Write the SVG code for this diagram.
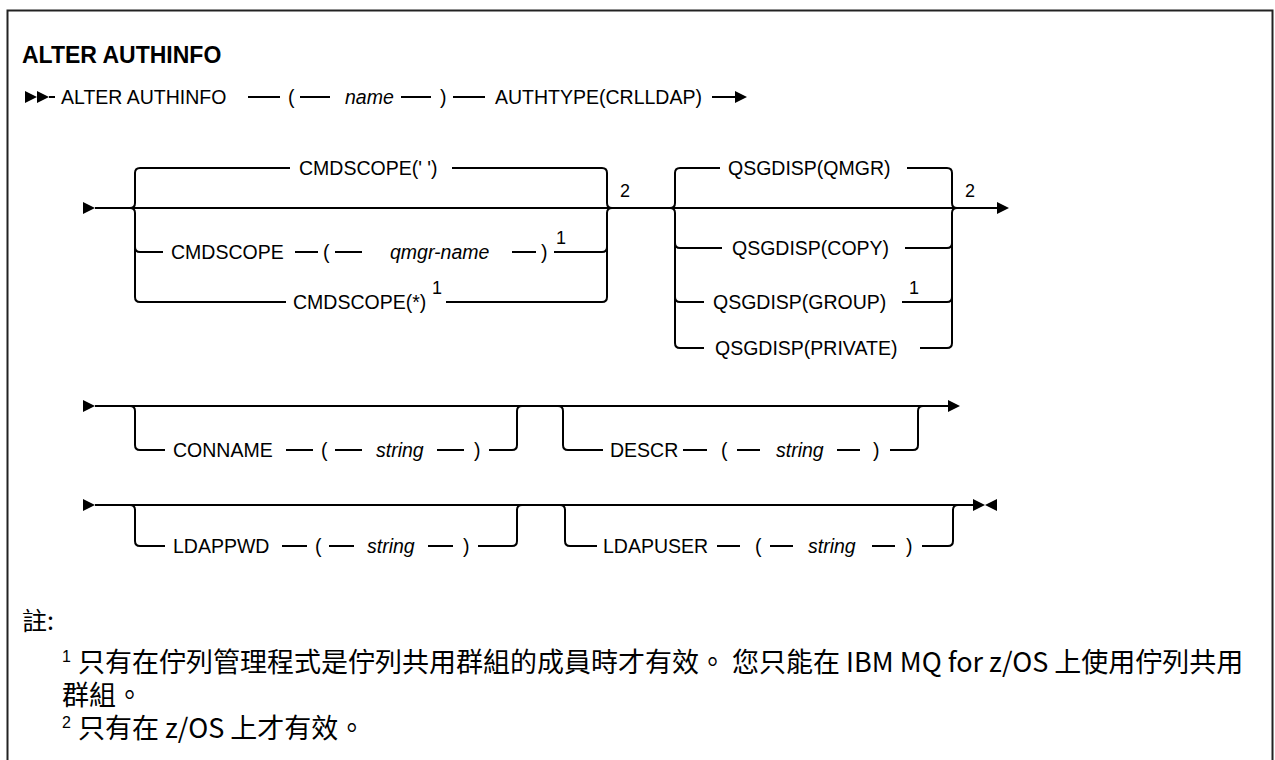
<svg xmlns="http://www.w3.org/2000/svg" width="1275" height="760" viewBox="0 0 1275 760">
<style>
.t{font-family:"Liberation Sans",Arial,sans-serif;font-size:19.5px;fill:#000}
.b{font-weight:bold;font-size:23px}
.i{font-style:italic}
.s{font-size:18px}
.ln{stroke:#000;stroke-width:2;fill:none}
.ar{fill:#000}
.cjk{font-family:"Noto Sans CJK TC","Noto Sans",sans-serif;font-size:27px;fill:#000}
.sup{font-family:"Liberation Sans",Arial,sans-serif;font-size:16px}
</style>
<rect x="7.5" y="10.5" width="1265" height="800" fill="#fff" stroke="#222" stroke-width="2"/>
<text class="t b" x="22" y="63">ALTER AUTHINFO</text>

<g id="connectors">
<!-- line 1 -->
<path class="ln" d="M49,97 H55 M248,97 H280 M300,97 H330 M401,97 H431 M453,97 H485 M712,97 H735"/>
<polygon class="ar" points="25,91 37,97 25,103"/>
<polygon class="ar" points="37,91 49,97 37,103"/>
<polygon class="ar" points="735,91 747,97 735,103"/>
<!-- section 2 main -->
<polygon class="ar" points="83,202 95,208 83,214"/>
<path class="ln" d="M95,208 H997"/>
<polygon class="ar" points="997,202 1009,208 997,214"/>
<!-- CMDSCOPE brackets -->
<path class="ln" d="M130,208 Q135,208 135,203 V173 Q135,168 140,168 M130,208 Q135,208 135,213 V297 Q135,302 140,302 M135,247 Q135,252 140,252"/>
<path class="ln" d="M602,168 Q607,168 607,173 V203 Q607,208 612,208 M602,302 Q607,302 607,297 V213 Q607,208 612,208 M602,252 Q607,252 607,247"/>
<path class="ln" d="M140,168 H290 M452,168 H602 M140,252 H163 M295,252 H318 M335,252 H362 M512,252 H536 M554,252 H602 M140,302 H286 M446,302 H602"/>
<!-- QSGDISP brackets -->
<path class="ln" d="M670,208 Q675,208 675,203 V173 Q675,168 680,168 M670,208 Q675,208 675,213 V343 Q675,348 680,348 M675,243 Q675,248 680,248 M675,297 Q675,302 680,302"/>
<path class="ln" d="M947,168 Q952,168 952,173 V203 Q952,208 957,208 M947,348 Q952,348 952,343 V213 Q952,208 957,208 M947,248 Q952,248 952,243 M947,302 Q952,302 952,297"/>
<path class="ln" d="M680,168 H720 M907,168 H947 M680,248 H722 M905,248 H947 M680,302 H704 M902,302 H947 M680,348 H704 M920,348 H947"/>
<!-- section 4 -->
<polygon class="ar" points="83,400 95,406 83,412"/>
<path class="ln" d="M95,406 H948"/>
<polygon class="ar" points="948,400 960,406 948,412"/>
<path class="ln" d="M130,406 Q135,406 135,411 V445 Q135,450 140,450 H165 M512,450 Q517,450 517,445 V411 Q517,406 522,406"/>
<path class="ln" d="M286,450 H313 M335,450 H362 M437,450 H464 M489,450 H512"/>
<path class="ln" d="M558,406 Q563,406 563,411 V445 Q563,450 568,450 H603 M913,450 Q918,450 918,445 V411 Q918,406 923,406"/>
<path class="ln" d="M683,450 H707 M737,450 H760 M837,450 H860 M890,450 H913"/>
<!-- section 5 -->
<polygon class="ar" points="83,499 95,505 83,511"/>
<path class="ln" d="M95,505 H973"/>
<polygon class="ar" points="973,499 985,505 973,511"/>
<polygon class="ar" points="997,499 985,505 997,511"/>
<path class="ln" d="M130,505 Q135,505 135,510 V541 Q135,546 140,546 H165 M512,546 Q517,546 517,541 V510 Q517,505 522,505"/>
<path class="ln" d="M282,546 H307 M329,546 H354 M428,546 H453 M478,546 H512"/>
<path class="ln" d="M560,505 Q565,505 565,510 V541 Q565,546 570,546 H597 M948,546 Q953,546 953,541 V510 Q953,505 958,505"/>
<path class="ln" d="M717,546 H740 M770,546 H793 M872,546 H895 M922,546 H948"/>
</g>

<g id="n-line1">
<text class="t" x="61" y="104">ALTER AUTHINFO</text>
<text class="t" x="288" y="104">(</text>
<text class="t i" x="345" y="104">name</text>
<text class="t" x="440" y="104">)</text>
<text class="t" x="495" y="104">AUTHTYPE(CRLLDAP)</text>
</g>
<g id="n-cmdscope-blank"><text class="t" x="299" y="175">CMDSCOPE(' ')</text></g>
<g id="n-cmdscope-qmgr">
<text class="t" x="171" y="259">CMDSCOPE</text>
<text class="t" x="323" y="259">(</text>
<text class="t i" x="390" y="259">qmgr-name</text>
<text class="t" x="541" y="259">)</text>
<text class="t s" x="556" y="244">1</text>
</g>
<g id="n-cmdscope-star">
<text class="t" x="293" y="309">CMDSCOPE(*)</text>
<text class="t s" x="432" y="294">1</text>
</g>
<g id="n-note2a"><text class="t s" x="620" y="197">2</text></g>
<g id="n-qmgr"><text class="t" x="728" y="175">QSGDISP(QMGR)</text></g>
<g id="n-copy"><text class="t" x="732" y="255">QSGDISP(COPY)</text></g>
<g id="n-group"><text class="t" x="713" y="309">QSGDISP(GROUP)</text><text class="t s" x="909" y="294">1</text></g>
<g id="n-private"><text class="t" x="715" y="355">QSGDISP(PRIVATE)</text></g>
<g id="n-note2b"><text class="t s" x="965" y="197">2</text></g>
<g id="n-conname">
<text class="t" x="173" y="457">CONNAME</text>
<text class="t" x="321" y="457">(</text>
<text class="t i" x="376" y="457">string</text>
<text class="t" x="474" y="457">)</text>
</g>
<g id="n-descr">
<text class="t" x="610" y="457">DESCR</text>
<text class="t" x="721" y="457">(</text>
<text class="t i" x="776" y="457">string</text>
<text class="t" x="873" y="457">)</text>
</g>
<g id="n-ldappwd">
<text class="t" x="173" y="553">LDAPPWD</text>
<text class="t" x="315" y="553">(</text>
<text class="t i" x="367" y="553">string</text>
<text class="t" x="463" y="553">)</text>
</g>
<g id="n-ldapuser">
<text class="t" x="603" y="553">LDAPUSER</text>
<text class="t" x="755" y="553">(</text>
<text class="t i" x="808" y="553">string</text>
<text class="t" x="906" y="553">)</text>
</g>
<g id="notes">
<text class="cjk" x="22" y="630" style="font-size:25px">註:</text>
<text class="cjk"><tspan class="sup" x="62" y="662">1</tspan><tspan x="78" y="672">只有在佇列管理程式是佇列共用群組的成員時才有效。 您只能在 IBM MQ for z/OS 上使用佇列共用</tspan><tspan x="62" y="705">群組。</tspan><tspan class="sup" x="62" y="728">2</tspan><tspan x="78" y="738">只有在 z/OS 上才有效。</tspan></text>
</g>
</svg>
